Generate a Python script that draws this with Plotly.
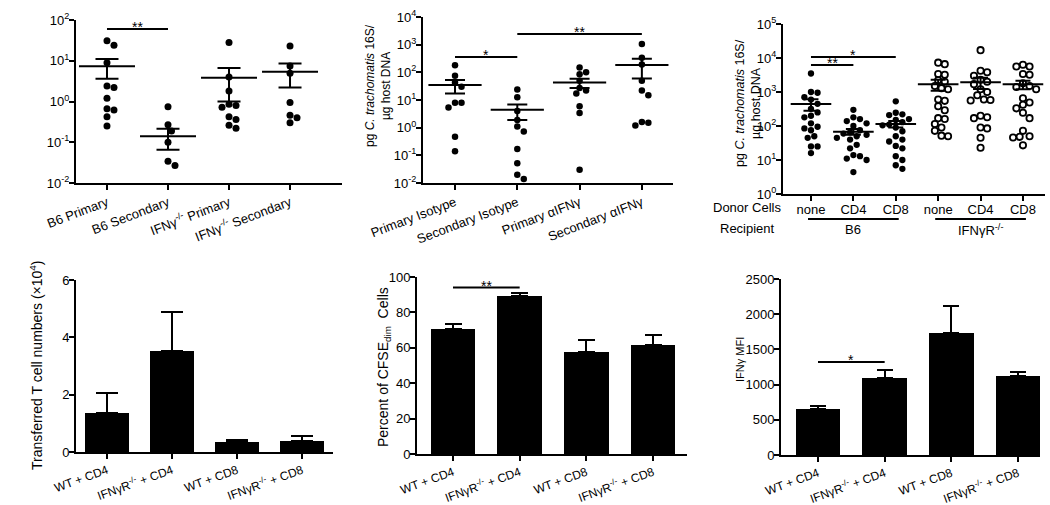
import numpy as np
import plotly.graph_objects as go

W, H = 1050, 505
FONT = "Arial, Liberation Sans, sans-serif"

# ---------------- data ----------------
A_categories = ["B6 Primary", "B6 Secondary", "IFNγ<sup>-/-</sup> Primary", "IFNγ<sup>-/-</sup> Secondary"]
A_b6_primary = [31, 24, 8.9, 2.4, 2.2, 1.2, 0.66, 0.62, 0.42, 0.25]
A_b6_secondary = [0.74, 0.27, 0.19, 0.10, 0.034, 0.027]
A_ifng_primary = [28, 4.0, 1.8, 0.86, 0.8, 0.72, 0.42, 0.36, 0.26, 0.22]
A_ifng_secondary = [23, 7.4, 4.9, 0.95, 0.46, 0.40, 0.30]
A_mean = [7.3, 0.14, 3.8, 5.4]
A_sem = [3.7, 0.075, 2.8, 3.2]

B_categories = ["Primary Isotype", "Secondary Isotype", "Primary αIFNγ", "Secondary αIFNγ"]
B_primary_iso = [180, 75, 43, 30, 8, 8, 5.4, 0.47, 0.14]
B_secondary_iso = [24, 12.5, 4.0, 1.9, 1.1, 0.72, 0.17, 0.052, 0.02, 0.014]
B_primary_aifn = [150, 100, 85, 50, 27, 22, 17, 6, 3.4, 0.03]
B_secondary_aifn = [1050, 340, 190, 50, 22, 15, 1.6, 1.5, 1.2]
B_mean = [35, 4.4, 43, 185]
B_sem = [18, 2.5, 16, 125]

C_donor = ["none", "CD4", "CD8", "none", "CD4", "CD8"]
C_recipient = ["B6", "IFNγR<sup>-/-</sup>"]
C_b6_none = [3500, 1000, 950, 700, 600, 450, 320, 250, 200, 180, 120, 95, 85, 75, 50, 45, 25, 25, 16]
C_b6_cd4 = [300, 180, 160, 140, 120, 100, 75, 65, 60, 55, 50, 45, 40, 28, 22, 14, 13, 11, 10, 4.4]
C_b6_cd8 = [530, 245, 220, 210, 160, 150, 130, 110, 105, 90, 70, 50, 40, 35, 26, 22, 13, 10, 7, 5.5]
C_ko_none = [7300, 6600, 3400, 3200, 2200, 2000, 1500, 1300, 1200, 600, 550, 380, 290, 170, 160, 115, 90, 72, 52, 50]
C_ko_cd4 = [17000, 4200, 3800, 3000, 2300, 2000, 1700, 1200, 1000, 800, 600, 580, 560, 200, 180, 170, 90, 85, 45, 23]
C_ko_cd8 = [6300, 5600, 5600, 3400, 3200, 1800, 1500, 1400, 1200, 650, 490, 420, 330, 245, 170, 72, 50, 48, 46, 27]
C_mean = [445, 68, 115, 1680, 1920, 1680]
C_sem = [165, 13, 25, 600, 700, 480]

BAR_categories = ["WT + CD4", "IFNγR<sup>-/-</sup> + CD4", "WT + CD8", "IFNγR<sup>-/-</sup> + CD8"]
D_values = [1.36, 3.52, 0.35, 0.39]
D_sem = [0.69, 1.35, 0.08, 0.16]
E_values = [70.5, 89.0, 57.5, 61.5]
E_sem = [3.1, 1.8, 6.8, 5.8]
F_values = [655, 1096, 1727, 1124]
F_sem = [47, 109, 389, 57]

# ---------------- helpers ----------------
def px(x):
    return x / W

def py(y):
    return 1 - y / H


def swarm(vals, px_per_decade, px_per_cat, d):
    ys = [np.log10(v) * px_per_decade for v in vals]
    order = np.argsort(ys)[::-1]
    placed = []
    offs = np.zeros(len(vals))
    step = d * 0.5
    for i in order:
        y = ys[i]
        k = 0
        found = None
        while found is None:
            cands = [0.0] if k == 0 else [k * step, -k * step]
            for c in cands:
                if all((c - qx) ** 2 + (y - qy) ** 2 >= (d * 0.97) ** 2 for qx, qy in placed):
                    found = c
                    break
            k += 1
        placed.append((found, y))
        offs[i] = found / px_per_cat
    return offs


fig = go.Figure()

# panel geometry (pixels)
geo = {
    1: dict(x=(76, 342), y=(20, 183)),
    2: dict(x=(423, 673), y=(17, 183)),
    3: dict(x=(783, 1045), y=(24, 194)),
    4: dict(x=(76, 333), y=(280, 452)),
    5: dict(x=(417, 687), y=(277, 454)),
    6: dict(x=(781, 1040), y=(279, 455)),
}
xranges = {1: [-0.508, 3.852], 2: [-0.514, 3.5], 3: [-0.66, 5.52],
           4: [-0.477, 3.477], 5: [-0.54, 3.51], 6: [-0.555, 3.33]}


def axname(i, a):
    return a if i == 1 else f"{a}{i}"


def add_scatter_groups(i, groups, means, sems, ppd, ppc, d, msize, open_flags, meanw, capw):
    xa, ya = axname(i, "x"), axname(i, "y")
    for k, vals in enumerate(groups):
        offs = swarm(vals, ppd, ppc, d)
        opn = open_flags[k]
        fig.add_trace(go.Scatter(
            x=k + offs, y=vals, mode="markers", xaxis=xa, yaxis=ya,
            marker=dict(size=msize, color="white" if opn else "black",
                        symbol="circle",
                        line=dict(color="black", width=1.8 if opn else 0)),
            hoverinfo="y"))
    fig.add_trace(go.Scatter(
        x=list(range(len(means))), y=means, mode="markers", xaxis=xa, yaxis=ya,
        marker=dict(symbol="line-ew", size=meanw, line=dict(color="black", width=2)),
        error_y=dict(type="data", array=sems, color="black", thickness=2, width=capw),
        hoverinfo="y"))


def add_bars(i, vals, sems, capw):
    xa, ya = axname(i, "x"), axname(i, "y")
    fig.add_trace(go.Bar(
        x=list(range(len(vals))), y=vals, width=0.67, xaxis=xa, yaxis=ya,
        marker=dict(color="black", line=dict(width=0)),
        error_y=dict(type="data", symmetric=False, array=sems, arrayminus=[0] * len(sems),
                     color="black", thickness=2, width=capw)))


def sig(i, x0, x1, yval, text, log=False, shift=2):
    xa, ya = axname(i, "x"), axname(i, "y")
    fig.add_trace(go.Scatter(x=[x0, x1], y=[yval, yval], mode="lines", xaxis=xa, yaxis=ya,
                             line=dict(color="black", width=2), hoverinfo="skip"))
    fig.add_annotation(x=(x0 + x1) / 2, y=np.log10(yval) if log else yval, xref=xa, yref=ya,
                       text=text, showarrow=False, yanchor="middle", yshift=shift,
                       font=dict(family=FONT, size=14, color="black"))


# Panel A
add_scatter_groups(1, [A_b6_primary, A_b6_secondary, A_ifng_primary, A_ifng_secondary],
                   A_mean, A_sem, 40.75, 61, 7, 7, [False] * 4, 40, 11.5)
sig(1, 0, 1, 60, "**", log=True)
# Panel B
add_scatter_groups(2, [B_primary_iso, B_secondary_iso, B_primary_aifn, B_secondary_aifn],
                   B_mean, B_sem, 27.67, 62.3, 6.5, 6.5, [False] * 4, 38, 10)
sig(2, 0, 1, 359, "*", log=True)
sig(2, 1, 3, 2430, "**", log=True)
# Panel C
add_scatter_groups(3, [C_b6_none, C_b6_cd4, C_b6_cd8, C_ko_none, C_ko_cd4, C_ko_cd8],
                   C_mean, C_sem, 34, 42.4, 6.6, 6.3, [False] * 3 + [True] * 3, 29, 7.5)
sig(3, 0, 1, 6200, "**", log=True)
sig(3, 0, 2, 10700, "*", log=True)
# Panels D-F
add_bars(4, D_values, D_sem, 11)
add_bars(5, E_values, E_sem, 8.5)
sig(5, 0, 1, 94, "**")
add_bars(6, F_values, F_sem, 8)
sig(6, 0, 1, 1320, "*")

# ---------------- axes ----------------
base = dict(showline=True, linecolor="black", linewidth=2, ticks="outside", ticklen=5,
            tickwidth=2, tickcolor="black", showgrid=False, zeroline=False, automargin=False,
            tickfont=dict(family=FONT, size=13, color="black"), fixedrange=True)

layout = {}
for i in range(1, 7):
    g = geo[i]
    xk = "xaxis" if i == 1 else f"xaxis{i}"
    yk = "yaxis" if i == 1 else f"yaxis{i}"
    xa = dict(base, domain=[px(g["x"][0]), px(g["x"][1])], range=xranges[i],
              anchor=axname(i, "y"), tickvals=list(range(6 if i == 3 else 4)))
    if i == 1:
        xa.update(ticktext=A_categories, tickangle=-21)
    elif i == 2:
        xa.update(ticktext=B_categories, tickangle=-21)
    elif i == 3:
        xa.update(ticktext=C_donor, tickangle=0, ticklabelstandoff=-3)
    else:
        xa.update(ticktext=BAR_categories, tickangle=-20,
                  tickfont=dict(family=FONT, size=12, color="black"))
    ya = dict(base, domain=[py(g["y"][1]), py(g["y"][0])], anchor=axname(i, "x"),
              ticklabelstandoff=-3)
    if i == 1:
        tv = [0.01, 0.1, 1, 10, 100]
        ya.update(type="log", range=[-2, 2], tickvals=tv,
                  ticktext=[f"10<sup>{int(round(np.log10(t)))}</sup>" for t in tv])
    elif i == 2:
        tv = [0.01, 0.1, 1, 10, 100, 1000, 10000]
        ya.update(type="log", range=[-2, 4], tickvals=tv,
                  ticktext=[f"10<sup>{int(round(np.log10(t)))}</sup>" for t in tv])
    elif i == 3:
        tv = [1, 10, 100, 1000, 10000, 100000]
        ya.update(type="log", range=[0, 5], tickvals=tv,
                  ticktext=[f"10<sup>{int(round(np.log10(t)))}</sup>" for t in tv])
    elif i == 4:
        ya.update(range=[0, 6], tickvals=[0, 2, 4, 6])
    elif i == 5:
        ya.update(range=[0, 100], tickvals=[0, 20, 40, 60, 80, 100])
    else:
        ya.update(range=[0, 2500], tickvals=[0, 500, 1000, 1500, 2000, 2500])
    layout[xk] = xa
    layout[yk] = ya

# ---------------- text ----------------
ann = []
for letter, (lx, ly) in zip("ABCDEF", [(8, 9), (351, 9), (722, 10), (8, 259), (349, 259), (722, 260)]):
    ann.append(dict(x=px(lx), y=py(ly), xref="paper", yref="paper", text=letter, showarrow=False,
                    xanchor="center", yanchor="middle", font=dict(family=FONT, size=19, color="black")))

ytitle = "pg <i>C. trachomatis</i> 16S/<br>µg host DNA"
for (tx, ty, fs, txt) in [(34, 103, 13, ytitle), (378, 86, 12, ytitle), (748, 103, 12.5, ytitle),
                          (36, 366, 14, "Transferred T cell numbers (×10<sup>4</sup>)"),
                          (384, 367, 14, "Percent of CFSE<sub>dim</sub>  Cells"),
                          (740, 360, 11, "IFNγ MFI")]:
    ann.append(dict(x=px(tx), y=py(ty), xref="paper", yref="paper", text=txt, showarrow=False,
                    textangle=-90, xanchor="center", yanchor="middle",
                    font=dict(family=FONT, size=fs, color="black")))

for (tx, ty, txt) in [(747, 208, "Donor Cells"), (747, 229, "Recipient")]:
    ann.append(dict(x=px(tx), y=py(ty), xref="paper", yref="paper", text=txt, showarrow=False,
                    xanchor="center", yanchor="middle", font=dict(family=FONT, size=13, color="black")))
for k, txt in enumerate(C_recipient):
    ann.append(dict(x=3 * k + 1, y=py(230), xref="x3", yref="paper", text=txt, showarrow=False,
                    xanchor="center", yanchor="middle", font=dict(family=FONT, size=13, color="black")))

shapes = []
for k in range(2):
    shapes.append(dict(type="line", xref="x3", yref="paper", x0=3 * k - 0.07, x1=3 * k + 2.07,
                       y0=py(219), y1=py(219), line=dict(color="black", width=2)))

fig.update_layout(width=W, height=H, margin=dict(l=0, r=0, t=0, b=0, autoexpand=False),
                  paper_bgcolor="white", plot_bgcolor="white", showlegend=False,
                  annotations=ann, shapes=shapes, bargap=0, **layout)

fig.write_html("out.html", config={"displayModeBar": False},
               post_script="document.body.style.margin='0';document.body.style.overflow='hidden';")
